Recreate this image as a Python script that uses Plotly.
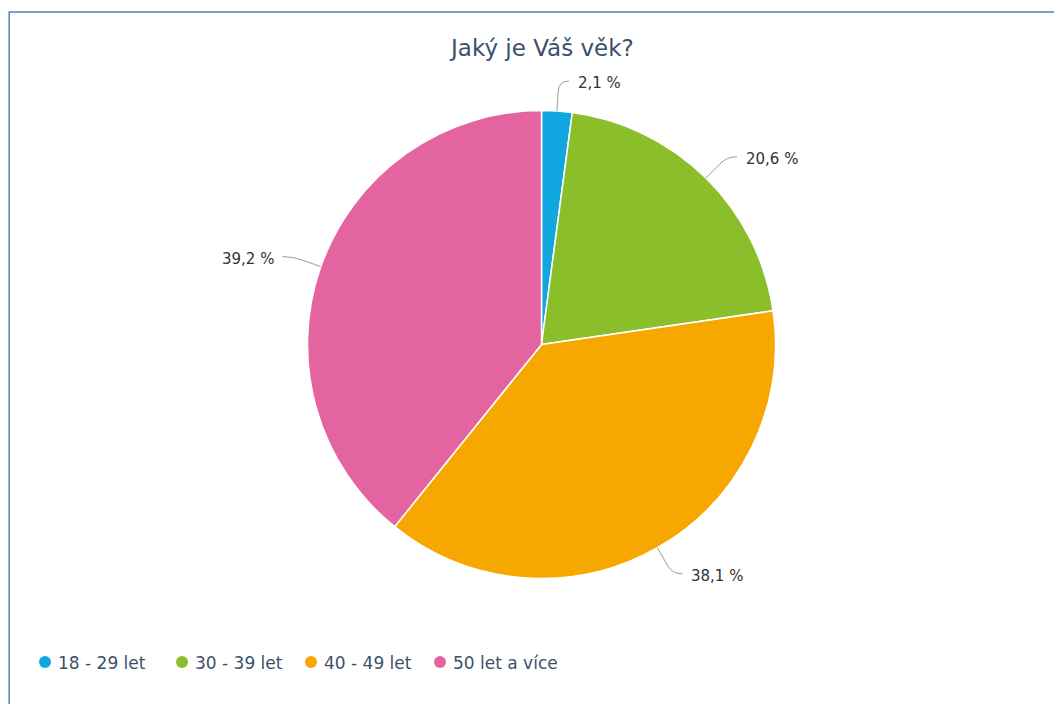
import math
import plotly.graph_objects as go

categories = ["18 - 29 let", "30 - 39 let", "40 - 49 let", "50 let a více"]
values = [2.1, 20.6, 38.1, 39.2]
labels_txt = ["2,1 %", "20,6 %", "38,1 %", "39,2 %"]
colors = ["#10A6E0", "#8BBE2B", "#F7A800", "#E463A1"]

W, H = 1062, 704
OFF = 8  # page body margin; coordinates below are screen pixels
cx, cy, r = 541.5, 344.5, 234.0

fig = go.Figure()
fig.add_trace(go.Pie(
    values=values, labels=categories, sort=False, direction="clockwise", rotation=0,
    marker=dict(colors=colors, line=dict(color="white", width=1.5)),
    textinfo="none", hoverinfo="label+percent", showlegend=False,
    domain=dict(x=[(cx - r - OFF) / W, (cx + r - OFF) / W],
                y=[1 - (cy + r - OFF) / H, 1 - (cy - r - OFF) / H]),
))

# legend (circle markers + text)
leg_x = [45, 182, 311, 440]
leg_y = 662
fig.add_trace(go.Scatter(x=leg_x, y=[leg_y] * 4, mode="markers", showlegend=False, hoverinfo="skip",
                         marker=dict(symbol="circle", size=12, color=colors, line=dict(width=0))))

shapes = []
annotations = []
for lx, c in zip(leg_x, categories):
    annotations.append(dict(x=lx + 11, y=leg_y + 1, xref="x", yref="y", text=c, showarrow=False,
                            xanchor="left", yanchor="middle",
                            font=dict(family="DejaVu Sans", size=17, color="#3D4F6B")))

total = sum(values)
cum = 0.0
for v, t in zip(values, labels_txt):
    mid = (cum + v / 2) / total * 2 * math.pi
    cum += v
    ux, uy = math.sin(mid), -math.cos(mid)
    ax_, ay_ = cx + r * ux, cy + r * uy
    px, py = cx + (r + 20) * ux, cy + (r + 20) * uy
    bx, by = cx + (r + 30) * ux, cy + (r + 30) * uy
    side = 1 if ux >= 0 else -1
    ex = bx + side * 10
    shapes.append(dict(type="path", xref="x", yref="y",
                       path=f"M {ax_:.1f},{ay_:.1f} L {px:.1f},{py:.1f} Q {bx:.1f},{by:.1f} {ex:.1f},{by:.1f}",
                       line=dict(color="#9a9a9a", width=1)))
    annotations.append(dict(x=bx + side * 17, y=by + 2, xref="x", yref="y", text=t, showarrow=False,
                            xanchor="left" if side > 0 else "right", yanchor="middle",
                            font=dict(family="DejaVu Sans", size=15, color="#333333")))

# frame (top and left edges visible)
shapes.append(dict(type="rect", xref="paper", yref="paper", x0=1.2 / W, y0=-0.05,
                   x1=1.05, y1=1 - (12 - OFF) / H,
                   line=dict(color="#4F81C4", width=1.5), fillcolor="rgba(0,0,0,0)", layer="below"))

annotations.append(dict(x=541, y=48, xref="x", yref="y", text="Jaký je Váš věk?", showarrow=False,
                        xanchor="center", yanchor="middle",
                        font=dict(family="DejaVu Sans", size=23, color="#3D4F6B")))

fig.update_layout(
    width=W, height=H, margin=dict(l=0, r=0, t=0, b=0),
    paper_bgcolor="white", plot_bgcolor="rgba(0,0,0,0)",
    xaxis=dict(range=[OFF, W + OFF], visible=False, fixedrange=True),
    yaxis=dict(range=[H + OFF, OFF], visible=False, fixedrange=True),
    shapes=shapes, annotations=annotations, showlegend=False,
)

fig.write_html("out.html")
